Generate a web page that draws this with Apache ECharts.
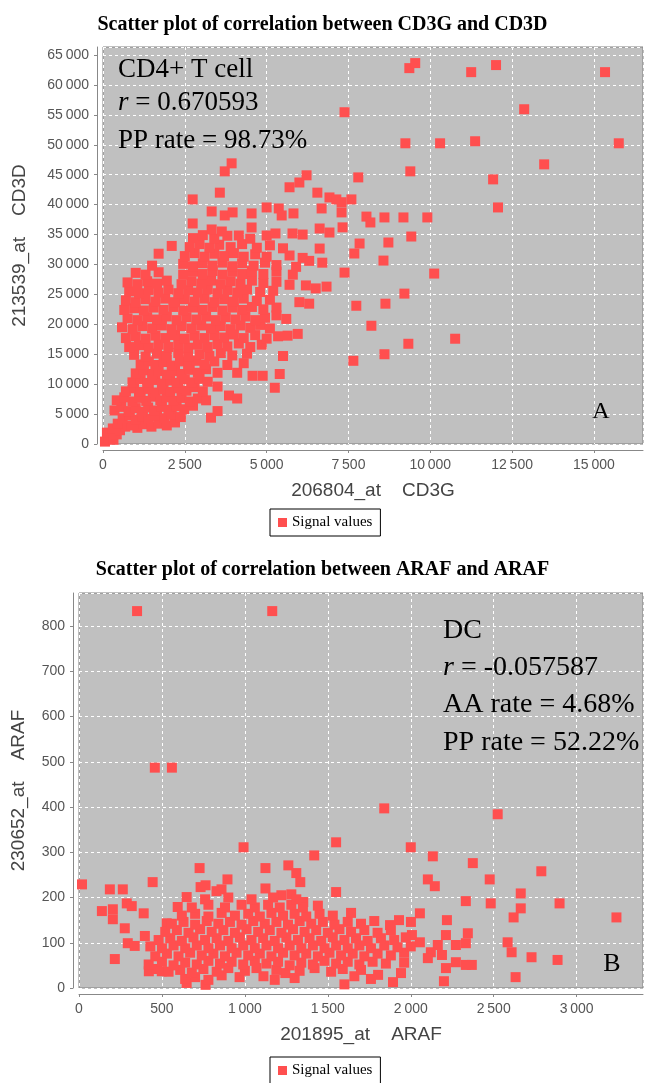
<!DOCTYPE html>
<html>
<head>
<meta charset="utf-8">
<title>Scatter plots of correlation</title>
<script src="https://cdn.jsdelivr.net/npm/echarts@6/dist/echarts.min.js"></script>
<style>
html, body { margin: 0; padding: 0; background: #fff; }
#chart { width: 645px; height: 1083px; }
</style>
</head>
<body>
<div id="chart"></div>
<script>
// panel A: 206804_at CD3G (x) against 213539_at CD3D (y)
const cd3Points = [
    [60,400],[180,1100],[120,1900],[320,700],[420,1600],[300,2600],[520,2300],[680,2900],[450,3400],
    [880,3100],[1050,2700],[1250,3300],[1480,2900],[1700,3400],[1950,3100],[2200,3600],
    [600,4300],[820,4800],[1000,4100],[1220,4600],[1400,4200],[1650,4700],[1880,4300],[2100,4900],[2380,4500],[3300,4400],
    [350,5600],[560,6200],[780,5500],[1000,6000],[1180,5400],[1380,6100],[1560,5600],[1800,6200],[2000,5700],[2250,6300],[2480,5800],[2750,6400],[3500,5500],
    [420,7300],[650,7800],[900,7100],[1100,7700],[1320,7200],[1520,7900],[1750,7300],[1950,7800],[2150,7200],[2400,7700],[2650,7100],[2900,7600],[3150,7300],
    [700,8800],[950,9300],[1150,8700],[1400,9200],[1600,8600],[1850,9100],[2050,8700],[2300,9300],[2550,8900],[2800,9500],[3050,8800],[3850,8100],[4100,7600],[3500,9600],
    [900,10300],[1150,10800],[1350,10200],[1600,10700],[1800,10100],[2050,10600],[2250,10200],[2500,10800],[2700,10300],[2950,10900],[3200,10400],[5250,9400],
    [1000,11800],[1250,12300],[1500,11700],[1700,12200],[1950,11600],[2200,12200],[2400,11700],[2650,12400],[2900,11900],[3150,12500],[3500,11900],[4100,11900],[4570,11400],[4880,11400],[5400,11700],
    [1150,13300],[1400,13800],[1600,13200],[1850,13700],[2100,13100],[2350,13800],[2600,13300],[2850,13900],[3100,13300],[3400,13800],[3800,13200],[4300,13500],
    [950,14900],[1300,14600],[1650,15100],[1950,14700],[2300,15200],[2600,14600],[2950,15000],[3250,14700],[3600,15200],[3950,14800],[4400,15100],[5500,14700],[7650,13900],[8600,15000],
    [800,16200],[1100,16500],[1400,16100],[1700,16600],[2000,16200],[2300,16700],[2600,16100],[2900,16600],[3200,16200],[3500,16700],[3800,16300],[4150,16800],[4500,16200],[4850,16600],[9330,16750],[10760,17590],
    [700,17700],[1000,18000],[1300,17600],[1600,18100],[1900,17700],[2200,18200],[2500,17600],[2800,18100],[3100,17700],[3400,18200],[3700,17800],[4000,18300],[4300,17700],[4650,18200],[5000,17600],[5350,18000],[5640,18100],[5950,18400],
    [580,19500],[900,19200],[1200,19700],[1500,19300],[1800,19800],[2100,19200],[2400,19700],[2700,19300],[3000,19800],[3300,19300],[3600,19700],[3900,19200],[4200,19800],[4500,19400],[4800,19900],[5100,19300],[5600,20900],[8200,19760],
    [750,21000],[1050,20700],[1350,21200],[1650,20800],[1950,21300],[2250,20700],[2550,21200],[2850,20800],[3150,21300],[3450,20700],[3750,21200],[4050,20800],[4350,21300],[4650,20700],[4950,21100],[5300,21500],
    [650,22400],[950,22700],[1250,22300],[1550,22800],[1850,22400],[2150,22900],[2450,22300],[2750,22800],[3050,22400],[3350,22900],[3650,22300],[3950,22800],[4250,22400],[4550,22900],[4900,22500],[5300,22800],[7740,23100],[8630,23450],
    [700,24000],[1000,23700],[1300,24200],[1600,23800],[1900,24300],[2200,23700],[2500,24200],[2800,23800],[3100,24300],[3400,23700],[3700,24200],[4000,23800],[4300,24300],[4700,23900],[5100,24100],[6000,23700],[6300,23450],
    [800,25500],[1100,25200],[1400,25700],[1700,25300],[2000,25800],[2300,25200],[2600,25700],[2900,25300],[3200,25800],[3500,25200],[3800,25700],[4100,25300],[4400,25800],[4800,25400],[5200,25600],[9210,25130],
    [750,27000],[1050,26700],[1350,27200],[1650,26800],[1950,27300],[2400,26700],[2700,27200],[3000,26800],[3300,27300],[3600,26700],[3900,27200],[4200,26800],[4550,27300],[4900,26900],[5300,27100],[5700,26600],[6200,26500],[6500,26000],[6830,26300],
    [1000,28600],[1300,28300],[1700,28700],[2450,28300],[2750,28800],[3050,28400],[3350,28900],[3650,28300],[3950,28800],[4250,28400],[4550,28900],[4900,28400],[5300,28800],[5800,28300],[7380,28640],[10120,28480],
    [1500,29800],[2450,30100],[2750,29700],[3050,30200],[3350,29800],[3650,30300],[3950,29700],[4250,30200],[4600,29800],[4950,30300],[5300,29900],[5900,29600],[6300,30600],[6700,30300],[8570,30650],
    [1700,31800],[2500,31400],[2800,31900],[3100,31300],[3400,31800],[3700,31400],[4000,31900],[4300,31300],[4650,31700],[5000,31300],[5700,31500],[6100,31100],[7680,31830],
    [2100,33100],[2650,32900],[2950,33400],[3250,32800],[3550,33300],[3900,32900],[4250,33400],[4700,32800],[5100,33200],[5500,32700],[6620,32660],[7840,33500],[8720,33670],
    [2750,34400],[3050,34900],[3400,34300],[3800,34800],[4150,34840],[4500,34300],[5000,34840],[5270,35180],[5790,35180],[6100,35000],[6920,35340],[9420,34670],
    [2740,36850],[3320,35850],[3630,35510],[4540,36180],[6620,36010],[7320,36200],[3320,38860],[3720,38190],[3960,38700],[4540,38530],
    [5000,39530],[5370,39360],[5460,38190],[5820,38530],[2740,40870],[3570,42000],[3720,45560],[3930,46900],[5700,42900],[6000,43700],
    [6220,44900],[6550,42000],[6920,41200],[7130,40870],[7290,40400],[7590,40870],[7800,44550],[6680,39360],[7290,38700],[8050,38000],
    [8170,37020],[8600,37860],[9180,37860],[9910,37860],
    [7380,55440],[9360,62810],[9540,63650],[11250,62140],[12010,63320],[15340,62140],[12870,55940],[9240,50250],[10300,50250],
    [11370,50590],[15760,50250],[9390,45560],[13480,46730],[11920,44220],[12070,39530]
];

// panel B: 201895_at ARAF (x) against 230652_at ARAF (y)
const arafPoints = [
    [350,833],[1165,833],[457,487],[560,487],[1840,397],[2524,384],[1550,322],[1418,293],[2000,311],[2133,291],
    [2374,276],[2787,258],[2103,240],[2145,225],[2476,240],[2663,209],[2663,176],[2620,156],[2332,192],[2482,187],
    [2897,187],[3240,156],[2584,101],[2608,79],[2728,68],[2885,62],[2632,24],[1550,212],[2200,15],[2212,44],
    [2212,117],[2218,150],[2055,165],[2344,121],[2332,99],[2272,95],[2163,95],[2121,79],[2103,66],[2188,73],
    [2272,57],[2332,51],[2368,51],[1941,33],[1893,13],[1803,29],[2007,117],[2055,101],[1875,139],[1929,150],[2001,146],
    [18,229],[186,218],[264,218],[138,170],[204,174],[288,187],[318,181],[390,165],[444,234],[204,152],
    [276,132],[397,115],[294,99],[336,93],[216,64],[421,37],[499,37],[727,265],[733,223],[763,227],
    [829,214],[859,218],[895,240],[992,311],[1124,265],[1124,220],[1262,271],[1310,254],[1334,234],[1352,190],
    [1220,205],[1280,207],[968,24],[1112,26],[1244,33],[763,7],[649,11],[649,201],[595,179],[529,143],
    [640,20],[700,24],[780,18],[860,28],[1180,18],[1300,22],[1600,8],[1660,26],[1760,20],
    [470,42],[540,36],[610,40],[680,34],[750,42],[830,36],[900,44],[1000,38],[1070,44],[1190,40],[1330,38],[1420,44],[1520,36],[1590,42],[1700,40],
    [420,52],[500,58],[570,50],[640,56],[710,52],[780,60],[850,54],[920,58],[990,52],[1060,60],[1130,54],[1200,58],[1270,50],[1340,56],[1410,52],[1480,60],[1550,54],[1620,58],[1690,52],[1770,58],[1850,54],[1960,56],
    [460,70],[530,76],[600,70],[670,78],[740,72],[810,76],[880,70],[950,78],[1020,72],[1090,76],[1160,70],[1230,78],[1300,72],[1370,76],[1440,70],[1510,78],[1580,72],[1650,76],[1720,70],[1800,76],[1880,72],[1960,78],
    [430,92],[500,88],[570,94],[640,88],[710,94],[780,88],[850,94],[920,88],[990,94],[1060,88],[1130,94],[1200,88],[1270,94],[1340,88],[1410,94],[1480,88],[1550,94],[1620,88],[1690,94],[1760,88],[1840,94],[1920,90],[2000,92],
    [480,106],[550,110],[620,104],[690,112],[760,106],[830,110],[900,104],[970,112],[1040,106],[1110,110],[1180,104],[1250,112],[1320,106],[1390,110],[1460,104],[1530,112],[1600,106],[1670,110],[1740,104],[1820,110],[1900,106],[1970,112],
    [520,124],[590,128],[660,122],[730,130],[800,124],[870,128],[940,122],[1010,130],[1080,124],[1150,128],[1220,122],[1290,130],[1360,124],[1430,128],[1500,122],[1570,130],[1640,124],[1720,128],[1800,122],[1880,128],
    [560,142],[630,146],[700,140],[770,148],[840,142],[910,146],[980,140],[1050,148],[1120,142],[1190,146],[1260,140],[1330,148],[1400,142],[1470,146],[1540,140],[1620,146],[1700,142],[1780,148],
    [620,160],[700,164],[780,158],[860,166],[940,160],[1020,164],[1090,158],[1160,166],[1230,160],[1300,164],[1370,158],[1450,164],[1530,160],[1640,166],
    [680,178],[780,184],[880,178],[980,184],[1060,178],[1140,184],[1210,178],[1280,184],[1350,178],[1440,182],
    [760,196],[900,200],[1040,196],[1170,200],[1310,196]
];

const titles = ['Scatter plot of correlation between CD3G and CD3D', 'Scatter plot of correlation between ARAF and ARAF'];
const xNames = ['206804_at    CD3G', '201895_at    ARAF'];
const yNames = ['213539_at    CD3D', '230652_at    ARAF'];
const cd3Notes = ['CD4+ T cell', '{i|r} = 0.670593', 'PP rate = 98.73%'];
const arafNotes = ['DC', '{i|r} = -0.057587', 'AA rate = 4.68%', 'PP rate = 52.22%'];
const seriesName = 'Signal values';

const chart = echarts.init(document.getElementById('chart'));

function fmt(v) {
    return String(v).replace(/\B(?=(\d{3})+(?!\d))/g, '\u2009');
}

function axis(idx, name, min, max, interval, gap) {
    return {
        type: 'value',
        gridIndex: idx,
        min: min,
        max: max,
        interval: interval,
        offset: 6,
        name: name,
        nameLocation: 'middle',
        nameGap: gap,
        nameTextStyle: {fontFamily: 'Liberation Sans', fontSize: 19, color: '#444'},
        axisLine: {show: true, onZero: false, lineStyle: {color: '#888', width: 1}},
        axisTick: {show: true, length: 3, lineStyle: {color: '#888'}},
        axisLabel: {
            color: '#555', fontFamily: 'Liberation Sans', fontSize: 14,
            margin: 8, showMaxLabel: false, formatter: fmt
        },
        splitLine: {show: true, lineStyle: {color: '#ffffff', width: 1, type: [3, 3]}}
    };
}

const serif = 'Liberation Serif, Times New Roman, serif';

// note texts sit on top of the plot, gridlines behind them
function notes(lines, x, ys, size) {
    return lines.map(function (t, i) {
        return {
            type: 'text',
            x: x,
            y: ys[i],
            z: 100,
            silent: true,
            style: {
                text: t,
                fill: '#000',
                font: size + 'px ' + serif,
                verticalAlign: 'middle',
                rich: {i: {fontStyle: 'italic', fontSize: size, fontFamily: serif}}
            }
        };
    });
}

const graphics = []
    .concat(notes(cd3Notes, 118, [70, 103, 141], 27))
    .concat(notes(arafNotes, 443, [631, 668, 705, 743], 28))
    .concat([
        {type: 'text', x: 601, y: 412, z: 100, silent: true,
            style: {text: 'A', fill: '#000', font: '24px ' + serif, align: 'center', verticalAlign: 'middle'}},
        {type: 'text', x: 612, y: 964, z: 100, silent: true,
            style: {text: 'B', fill: '#000', font: '26px ' + serif, align: 'center', verticalAlign: 'middle'}}
    ]);

const legendBase = {
    data: [seriesName],
    left: 270,
    icon: 'rect',
    itemWidth: 9,
    itemHeight: 9,
    padding: [6, 8],
    borderColor: '#000',
    borderWidth: 1,
    backgroundColor: '#fff',
    selectedMode: false,
    textStyle: {fontFamily: serif, fontSize: 15, color: '#000'}
};

chart.setOption({
    animation: false,
    backgroundColor: '#fff',
    title: titles.map(function (t, i) {
        return {
            text: t,
            left: 'center',
            top: i === 0 ? 10 : 555,
            textStyle: {fontFamily: serif, fontWeight: 'bold', fontSize: 20, color: '#000'}
        };
    }),
    legend: [
        Object.assign({}, legendBase, {top: 509}),
        Object.assign({}, legendBase, {top: 1057})
    ],
    grid: [
        {left: 103, top: 47, right: 2, bottom: 639, show: true, backgroundColor: '#c0c0c0', borderColor: '#808080', borderWidth: 1},
        {left: 79, top: 593, right: 2, bottom: 95, show: true, backgroundColor: '#c0c0c0', borderColor: '#808080', borderWidth: 1}
    ],
    xAxis: [
        axis(0, xNames[0], 0, 16500, 2500, 31),
        axis(1, xNames[1], 0, 3400, 500, 31)
    ],
    yAxis: [
        axis(0, yNames[0], 0, 66340, 5000, 68),
        axis(1, yNames[1], 0, 873, 100, 45)
    ],
    graphic: graphics,
    series: [
        {name: seriesName, type: 'scatter', xAxisIndex: 0, yAxisIndex: 0, symbol: 'rect', symbolSize: 10,
            itemStyle: {color: '#ff4f4f', opacity: 1}, data: cd3Points},
        {name: seriesName, type: 'scatter', xAxisIndex: 1, yAxisIndex: 1, symbol: 'rect', symbolSize: 10,
            itemStyle: {color: '#ff4f4f', opacity: 1}, data: arafPoints}
    ]
});
</script>
</body>
</html>
